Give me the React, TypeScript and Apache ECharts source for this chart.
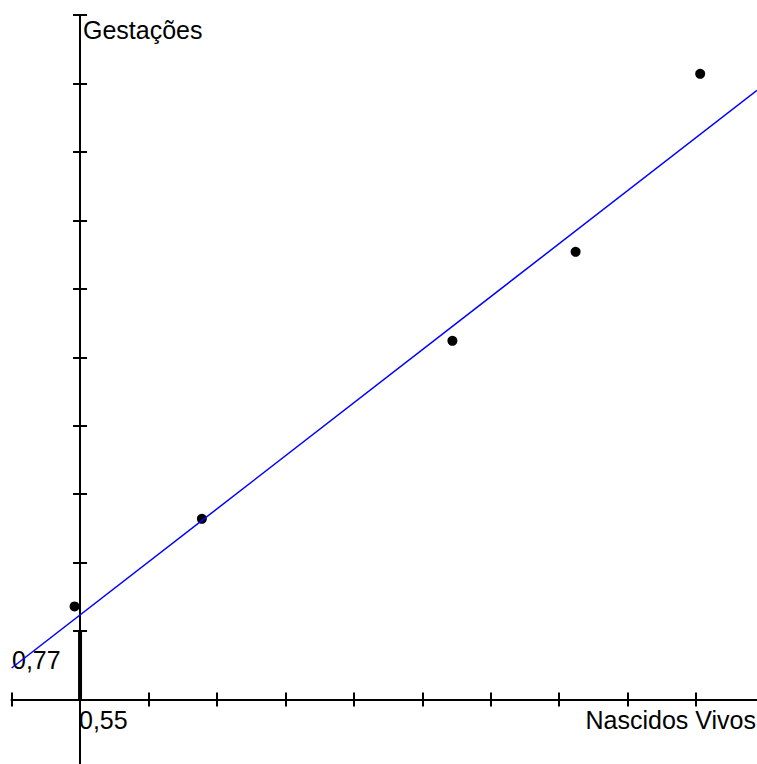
import React, { useEffect, useRef } from "react";
import * as echarts from "echarts";

// Axes cross at these values (shown as the origin labels)
const X_ORIGIN = 0.55;
const Y_ORIGIN = 0.77;

// Data points
const nascidosVivos = [0.546, 0.639, 0.822, 0.912, 1.003];
const gestacoes = [0.838, 0.902, 1.032, 1.097, 1.227];

// Fitted line end points
const fitX = [0.5, 1.0445];
const fitY = [0.793, 1.215];

// Axis ranges and tick positions (real values)
const xRange = [0.5, 1.0445];
const yRange = [0.7229, 1.27];
const xTicks = [0.5, 0.6, 0.65, 0.7, 0.75, 0.8, 0.85, 0.9, 0.95, 1.0];
const yTicks = [0.82, 0.87, 0.92, 0.97, 1.02, 1.07, 1.12, 1.17, 1.22, 1.27];
const axisBreak = [0.77, 0.82];

const xName = "Nascidos Vivos";
const yName = "Gestações";

const sx = (v: number) => +(v - X_ORIGIN).toFixed(5);
const sy = (v: number) => +(v - Y_ORIGIN).toFixed(5);
const fmt = (v: number) => String(v).replace(".", ",");

const FONT = "Liberation Sans, Arial, sans-serif";
const FS = 25;

export default function App() {
  const ref = useRef<HTMLDivElement>(null);
  useEffect(() => {
    if (!ref.current) return;
    const chart = echarts.init(ref.current, undefined, { renderer: "svg" });
    const lineStyle = { color: "#000", width: 2 };
    const mkX = (position: string) => ({
      type: "value",
      position,
      min: sx(xRange[0]),
      max: sx(xRange[1]),
      axisLine: { show: true, onZero: true, onZeroAxisIndex: 0, lineStyle },
      axisTick: {
        show: true,
        inside: false,
        length: 7,
        lineStyle,
        customValues: xTicks.map(sx),
      },
      axisLabel: { show: false },
      splitLine: { show: false },
    });
    const mkY = (position: string) => ({
      type: "value",
      position,
      min: sy(yRange[0]),
      max: sy(yRange[1]),
      axisLine: { show: true, onZero: true, onZeroAxisIndex: 0, lineStyle },
      axisTick: {
        show: true,
        inside: false,
        length: 7,
        lineStyle,
        customValues: yTicks.map(sy),
      },
      axisLabel: { show: false },
      splitLine: { show: false },
    });
    const txt = (text: string, x: number, y: number, align = "left") => ({
      type: "text",
      x,
      y,
      style: { text, font: `${FS}px ${FONT}`, fill: "#000", align, verticalAlign: "top" },
    });
    chart.setOption({
      animation: false,
      backgroundColor: "#fff",
      grid: { left: 11.6, right: 0, top: 15, bottom: 0, containLabel: false },
      xAxis: [mkX("bottom"), mkX("top")],
      yAxis: [mkY("left"), mkY("right")],
      series: [
        {
          type: "line",
          data: axisBreak.map((v) => [0, sy(v)]),
          symbol: "none",
          lineStyle: { color: "#000", width: 4 },
          z: 1,
        },
        {
          type: "scatter",
          data: nascidosVivos.map((v, i) => [sx(v), sy(gestacoes[i])]),
          symbol: "circle",
          symbolSize: 10,
          itemStyle: { color: "#000", opacity: 1 },
          z: 2,
        },
        {
          type: "line",
          data: fitX.map((v, i) => [sx(v), sy(fitY[i])]),
          symbol: "none",
          lineStyle: { color: "#0000ff", width: 1.5 },
          z: 3,
        },
      ],
      graphic: [
        txt(yName, 83, 17.5),
        txt(xName, 756, 707.5, "right"),
        txt(fmt(Y_ORIGIN), 12, 647.5),
        txt(fmt(X_ORIGIN), 79, 707.5),
      ],
    });
    return () => chart.dispose();
  }, []);
  return (
    <div
      ref={ref}
      style={{ position: "fixed", left: 0, top: 0, width: 757, height: 764 }}
    />
  );
}
